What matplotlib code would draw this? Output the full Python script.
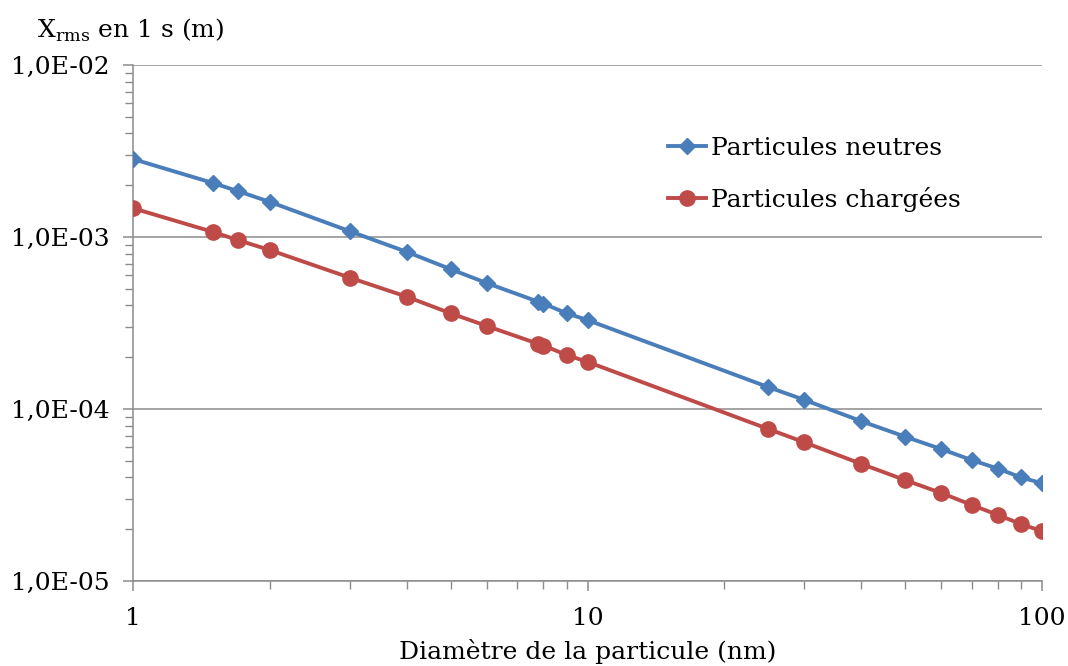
import numpy as np
import matplotlib
matplotlib.use("Agg")
import matplotlib.pyplot as plt
from matplotlib.ticker import FuncFormatter, LogLocator, NullFormatter

plt.rcParams['font.family'] = ['DejaVu Serif']
plt.rcParams['mathtext.fontset'] = 'custom'
plt.rcParams['mathtext.rm'] = 'DejaVu Serif'

# diametre (nm)
diametre = [1, 1.5, 1.7, 2, 3, 4, 5, 6, 7.8, 8, 9, 10, 25, 30, 40, 50, 60, 70, 80, 90, 100]
# Xrms en 1 s (m)
neutres = [2.84e-3, 2.06e-3, 1.85e-3, 1.60e-3, 1.08e-3, 8.2e-4, 6.5e-4, 5.4e-4, 4.2e-4, 4.1e-4,
           3.6e-4, 3.29e-4, 1.34e-4, 1.13e-4, 8.5e-5, 6.9e-5, 5.85e-5, 5.05e-5, 4.5e-5, 4.0e-5, 3.7e-5]
chargees = [1.47e-3, 1.07e-3, 9.6e-4, 8.4e-4, 5.8e-4, 4.5e-4, 3.6e-4, 3.04e-4, 2.39e-4, 2.34e-4,
            2.06e-4, 1.88e-4, 7.65e-5, 6.4e-5, 4.8e-5, 3.86e-5, 3.25e-5, 2.77e-5, 2.42e-5, 2.14e-5, 1.95e-5]

fig = plt.figure(figsize=(10.68, 6.66), dpi=100)
ax = fig.add_axes([0.1245, 0.1276, 0.8512, 0.7748])

ax.plot(diametre, neutres, color='#4A7EBB', lw=2.8, marker='D', ms=8.5,
        label='Particules neutres', zorder=3)
ax.plot(diametre, chargees, color='#BE4B48', lw=2.8, marker='o', ms=11,
        label='Particules chargées', zorder=3)

ax.set_xscale('log')
ax.set_yscale('log')
ax.set_xlim(1, 100)
ax.set_ylim(1e-5, 1e-2)

ax.yaxis.set_major_formatter(FuncFormatter(lambda v, p: ('%.1E' % v).replace('.', ',')))
ax.yaxis.set_minor_locator(LogLocator(base=10, subs=np.arange(2, 10)))
ax.yaxis.set_minor_formatter(NullFormatter())
ax.xaxis.set_major_formatter(FuncFormatter(lambda v, p: '%d' % v))
ax.xaxis.set_minor_locator(LogLocator(base=10, subs=np.arange(2, 10)))
ax.xaxis.set_minor_formatter(NullFormatter())

ax.grid(axis='y', which='major', color='#8c8c8c', lw=1.1)
for s in ['top', 'right']:
    ax.spines[s].set_visible(False)
for s in ['left', 'bottom']:
    ax.spines[s].set_color('#8c8c8c')
    ax.spines[s].set_linewidth(1.1)

ax.tick_params(axis='both', which='both', colors='#8c8c8c', direction='out', labelcolor='black',
               labelsize=18)
ax.tick_params(axis='both', which='major', length=7, width=1.1)
ax.tick_params(axis='both', which='minor', length=6, width=1.0)
ax.tick_params(axis='x', which='major', pad=12)
ax.tick_params(axis='y', which='major', pad=10)

ax.set_xlabel('Diamètre de la particule (nm)', fontsize=18, labelpad=6)
fig.text(0.035, 0.955, r'X$_{\mathrm{rms}}$ en 1 s (m)', fontsize=18, ha='left', va='center')

leg = ax.legend(loc='upper left', bbox_to_anchor=(0.564, 0.905), frameon=False, fontsize=18,
                handlelength=1.5, handletextpad=0.2, labelspacing=1.1)

fig.savefig('out.png', dpi=100)
